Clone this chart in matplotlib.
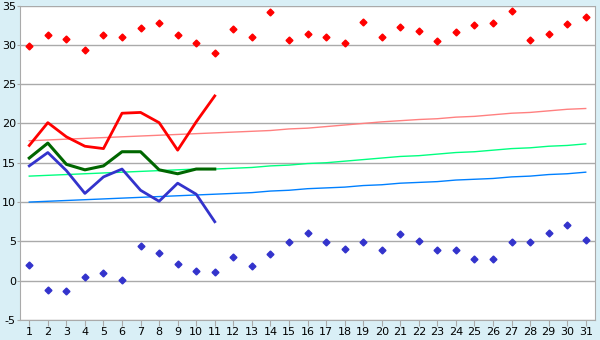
import numpy as np
import matplotlib
matplotlib.use("Agg")
import matplotlib.pyplot as plt

plt.rcParams["axes.unicode_minus"] = False

# Days of month
days = list(range(1, 32))

# Extreme values (markers)
max_points = [29.9, 31.2, 30.7, 29.4, 31.2, 31.0, 32.2, 32.8, 31.2, 30.2, 29.0,
              32.0, 31.0, 34.2, 30.6, 31.4, 31.0, 30.2, 32.9, 31.0, 32.3, 31.8,
              30.5, 31.6, 32.5, 32.8, 34.3, 30.6, 31.4, 32.7, 33.5]
min_points = [2.0, -1.2, -1.3, 0.5, 1.0, 0.1, 4.4, 3.5, 2.1, 1.2, 1.1,
              3.0, 1.9, 3.4, 4.9, 6.1, 4.9, 4.0, 4.9, 3.9, 5.9, 5.1,
              3.9, 3.9, 2.8, 2.8, 4.9, 4.9, 6.1, 7.1, 5.2]

# Current month (days 1-11)
cur_days = days[:11]
cur_max = [17.2, 20.1, 18.3, 17.1, 16.8, 21.3, 21.4, 20.1, 16.6, 20.2, 23.5]
cur_mean = [15.6, 17.5, 14.8, 14.1, 14.6, 16.4, 16.4, 14.1, 13.6, 14.2, 14.2]
cur_min = [14.6, 16.3, 14.0, 11.1, 13.2, 14.2, 11.5, 10.1, 12.4, 11.0, 7.5]

# Normal values
norm_max = [17.8, 17.9, 18.0, 18.1, 18.2, 18.3, 18.4, 18.5, 18.6, 18.7, 18.8,
            18.9, 19.0, 19.1, 19.3, 19.4, 19.6, 19.8, 20.0, 20.2, 20.35, 20.5,
            20.6, 20.8, 20.9, 21.1, 21.3, 21.4, 21.6, 21.8, 21.9]
norm_mean = [13.3, 13.4, 13.5, 13.6, 13.7, 13.8, 13.9, 14.0, 14.1, 14.2, 14.2,
             14.3, 14.4, 14.6, 14.7, 14.9, 15.0, 15.2, 15.4, 15.6, 15.8, 15.9,
             16.1, 16.3, 16.4, 16.6, 16.8, 16.9, 17.1, 17.2, 17.4]
norm_min = [10.0, 10.1, 10.2, 10.3, 10.4, 10.5, 10.6, 10.7, 10.8, 10.9, 11.0,
            11.1, 11.2, 11.4, 11.5, 11.7, 11.8, 11.9, 12.1, 12.2, 12.4, 12.5,
            12.6, 12.8, 12.9, 13.0, 13.2, 13.3, 13.5, 13.6, 13.8]

y_ticks = [-5, 0, 5, 10, 15, 20, 25, 30, 35]

bg = "#d9eff6"
grid_c = "#aaaaaa"

fig = plt.figure(figsize=(6, 3.4), dpi=100, facecolor=bg)
ax = fig.add_axes([20 / 600, 20 / 340, 575 / 600, 314.5 / 340])
ax.set_facecolor("white")

# normals
ax.plot(days, norm_max, color="#ff8080", lw=1)
ax.plot(days, norm_mean, color="#00ff80", lw=1)
ax.plot(days, norm_min, color="#0080ff", lw=1)

# current month
ax.plot(cur_days, cur_max, color="#ff0000", lw=2)
ax.plot(cur_days, cur_mean, color="#006600", lw=2.2)
ax.plot(cur_days, cur_min, color="#3333cc", lw=2)

# extremes
ax.plot(days, max_points, ls="none", marker="D", ms=3.5, color="#ff0000")
ax.plot(days, min_points, ls="none", marker="D", ms=3.5, color="#3333cc")

ax.set_xlim(0.5, 31.5)
ax.set_ylim(-5, 35)
ax.set_xticks(days)
ax.set_yticks(y_ticks)
ax.yaxis.grid(True, color=grid_c, lw=1)
ax.set_axisbelow(True)

for s in ["left", "bottom", "right"]:
    ax.spines[s].set_color(grid_c)
ax.spines["top"].set_visible(False)
ax.tick_params(axis="x", colors=grid_c, labelcolor="black", labelsize=8, length=4, pad=1)
ax.tick_params(axis="y", colors=grid_c, labelcolor="black", labelsize=8, length=2, pad=1)

fig.savefig("out.png", dpi=100, facecolor=bg)
